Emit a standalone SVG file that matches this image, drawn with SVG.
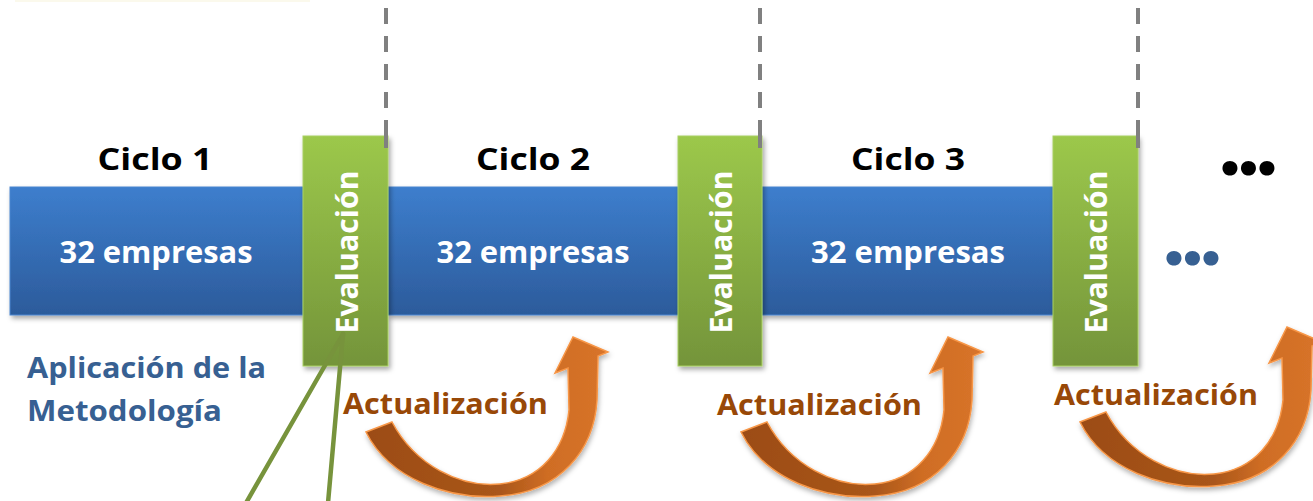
<svg xmlns="http://www.w3.org/2000/svg" width="1313" height="501" viewBox="0 0 1313 501">
<defs>
<style>
.bar{fill:url(#gBlue);stroke:#4a86cf;stroke-width:1;filter:url(#sh)}
.evb{fill:url(#gGreen);stroke:#a8cf63;stroke-width:1;filter:url(#sh)}
.f{font-family:"Open Sans",Lato,"Liberation Sans",sans-serif;font-weight:bold}
.w{fill:#ffffff}
.ciclo{fill:#000000;font-size:31px}
.emp{font-size:31px}
.ev{font-size:31px}
.act{fill:#984807;font-size:29px}
.apl{fill:#376092;font-size:29px}
.dash{stroke:#808080;stroke-width:4;fill:none;stroke-dasharray:16 12 16 12 16 12 16 12 28}
.gl{stroke:#77933c;stroke-width:4.5;fill:none;stroke-linecap:round}
.arr{fill:url(#gOr);stroke:#f79646;stroke-width:1.5;stroke-linejoin:miter;filter:url(#sh2)}
.dots{font-family:Lato,"Open Sans","Liberation Sans",sans-serif;font-weight:900;font-size:92px}
</style>
<linearGradient id="gBlue" x1="0" y1="0" x2="0" y2="1">
<stop offset="0" stop-color="#3d7ecd"/><stop offset="1" stop-color="#2c5b9b"/>
</linearGradient>
<linearGradient id="gGreen" x1="0" y1="0" x2="0" y2="1">
<stop offset="0" stop-color="#9cc84b"/><stop offset="1" stop-color="#74943a"/>
</linearGradient>
<linearGradient id="gOr" x1="0" y1="0" x2="1" y2="0">
<stop offset="0" stop-color="#9c4c14"/><stop offset="0.55" stop-color="#a9561a"/><stop offset="0.75" stop-color="#cf6d24"/><stop offset="1" stop-color="#d8742a"/>
</linearGradient>
<filter id="sh" x="-10%" y="-10%" width="130%" height="130%">
<feDropShadow dx="2" dy="3" stdDeviation="2.5" flood-color="#000" flood-opacity="0.35"/>
</filter>
<filter id="sh2" x="-10%" y="-10%" width="130%" height="130%">
<feDropShadow dx="1" dy="3" stdDeviation="2.5" flood-color="#000" flood-opacity="0.3"/>
</filter>
<path id="arrow" d="M366,432 C390,480 450,500 500,496 C560,492 594,450 597,400 L598,356 L608,352 L573,337 L555,373 L568,368 L569,410 C565,450 540,480 500,484 C460,488 415,465 392,422 Z"/>
</defs>

<rect x="15" y="0" width="295" height="2" fill="#fbf9ec"/>

<g id="ciclo1">
<rect class="bar" x="10" y="187" width="293" height="128"/>
<text class="f w emp" x="156" y="263" text-anchor="middle" textLength="193" lengthAdjust="spacingAndGlyphs">32 empresas</text>
<text class="f ciclo" x="155" y="170" text-anchor="middle" textLength="115" lengthAdjust="spacingAndGlyphs">Ciclo 1</text>
</g>
<g id="ciclo2">
<rect class="bar" x="388" y="187" width="292" height="128"/>
<text class="f w emp" x="533" y="263" text-anchor="middle" textLength="193" lengthAdjust="spacingAndGlyphs">32 empresas</text>
<text class="f ciclo" x="533" y="170" text-anchor="middle" textLength="114" lengthAdjust="spacingAndGlyphs">Ciclo 2</text>
</g>
<g id="ciclo3">
<rect class="bar" x="762" y="187" width="292" height="128"/>
<text class="f w emp" x="908" y="263" text-anchor="middle" textLength="194" lengthAdjust="spacingAndGlyphs">32 empresas</text>
<text class="f ciclo" x="908" y="170" text-anchor="middle" textLength="114" lengthAdjust="spacingAndGlyphs">Ciclo 3</text>
</g>

<g id="eval1">
<rect class="evb" x="303" y="136" width="85" height="230"/>
<text class="f w ev" transform="translate(358,252) rotate(-90)" text-anchor="middle" textLength="163" lengthAdjust="spacingAndGlyphs">Evaluación</text>
</g>
<g id="eval2">
<rect class="evb" x="678" y="136" width="84" height="230"/>
<text class="f w ev" transform="translate(732,252) rotate(-90)" text-anchor="middle" textLength="163" lengthAdjust="spacingAndGlyphs">Evaluación</text>
</g>
<g id="eval3">
<rect class="evb" x="1053" y="136" width="85" height="230"/>
<text class="f w ev" transform="translate(1107,252) rotate(-90)" text-anchor="middle" textLength="163" lengthAdjust="spacingAndGlyphs">Evaluación</text>
</g>

<g id="more-top">
<text class="dots" x="1219" y="175" fill="#000000" textLength="59" lengthAdjust="spacing">...</text>
</g>
<g id="more-bar">
<text class="dots" x="1163" y="265" fill="#376092" textLength="59" lengthAdjust="spacing">...</text>
</g>

<g id="label-aplicacion">
<text class="f apl" x="27" y="378" textLength="239" lengthAdjust="spacingAndGlyphs">Aplicación de la</text>
<text class="f apl" x="27" y="421" textLength="195" lengthAdjust="spacingAndGlyphs">Metodología</text>
</g>

<g id="connectors">
<line class="dash" x1="386" y1="8" x2="386" y2="148"/>
<line class="dash" x1="760" y1="8" x2="760" y2="148"/>
<line class="dash" x1="1138" y1="8" x2="1138" y2="148"/>
<line class="gl" x1="343" y1="334" x2="246" y2="503"/>
<line class="gl" x1="343" y1="334" x2="328" y2="503"/>
<use href="#arrow" class="arr"/>
<use href="#arrow" class="arr" transform="translate(375,0)"/>
<use href="#arrow" class="arr" transform="translate(714,-10)"/>
</g>

<g id="actualizacion">
<text class="f act" x="343" y="414" textLength="205" lengthAdjust="spacingAndGlyphs">Actualización</text>
<text class="f act" x="717" y="415" textLength="205" lengthAdjust="spacingAndGlyphs">Actualización</text>
<text class="f act" x="1054" y="405" textLength="204" lengthAdjust="spacingAndGlyphs">Actualización</text>
</g>
</svg>
